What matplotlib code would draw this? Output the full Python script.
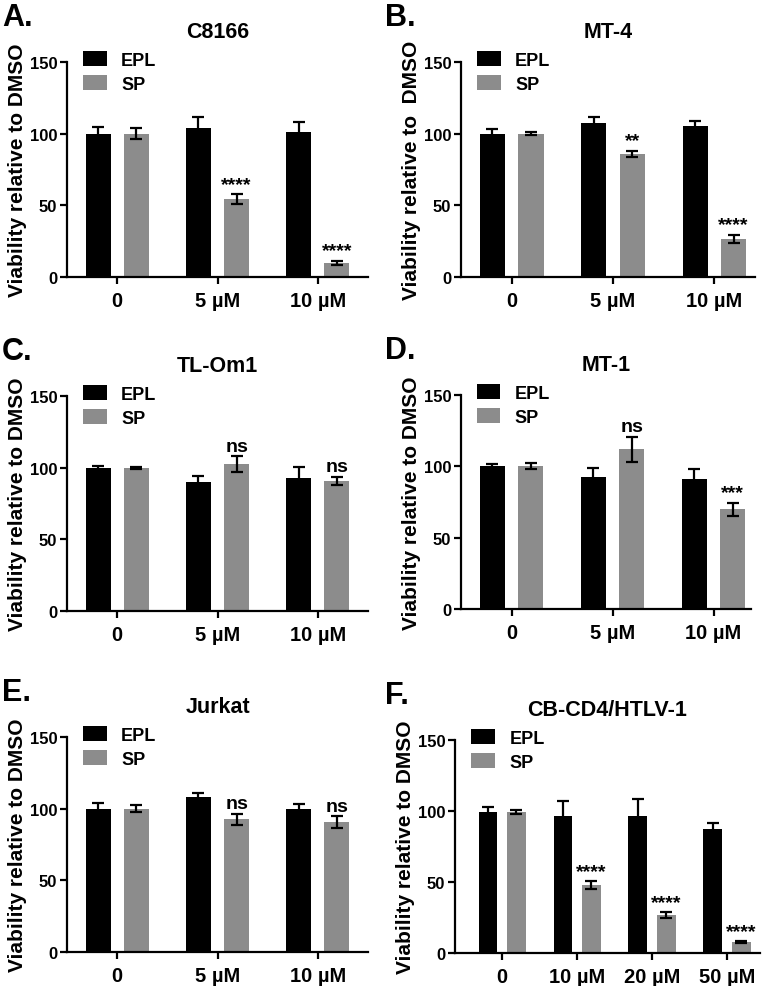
import numpy as np
import matplotlib
matplotlib.use('Agg')
import matplotlib.pyplot as plt

plt.rcParams['font.family'] = ['Liberation Sans', 'DejaVu Sans']
plt.rcParams['font.weight'] = 'bold'

# ---- data ----
doses_3 = ['0', '5 µM', '10 µM']
doses_4 = ['0', '10 µM', '20 µM', '50 µM']

c8166_epl = [100, 103.7, 101.2]
c8166_epl_err = [4.6, 7.7, 7.2]
c8166_sp = [100, 54.4, 9.8]
c8166_sp_err = [4.0, 3.3, 1.6]
c8166_sig = ['', '****', '****']

mt4_epl = [100, 107.7, 105.3]
mt4_epl_err = [3.5, 3.7, 3.5]
mt4_sp = [100, 85.8, 26.7]
mt4_sp_err = [1.2, 2.3, 2.8]
mt4_sig = ['', '**', '****']

tlom1_epl = [99.8, 90.0, 92.8]
tlom1_epl_err = [1.4, 4.4, 7.4]
tlom1_sp = [99.8, 102.3, 90.7]
tlom1_sp_err = [0.7, 5.6, 3.0]
tlom1_sig = ['', 'ns', 'ns']

mt1_epl = [100.3, 92.8, 91.4]
mt1_epl_err = [1.2, 5.9, 6.6]
mt1_sp = [100.3, 112.0, 70.0]
mt1_sp_err = [1.9, 8.8, 4.6]
mt1_sig = ['', 'ns', '***']

jurkat_epl = [99.8, 108.0, 99.6]
jurkat_epl_err = [4.2, 2.8, 3.5]
jurkat_sp = [100, 92.6, 90.7]
jurkat_sp_err = [2.6, 4.0, 4.2]
jurkat_sig = ['', 'ns', 'ns']

cbcd4_epl = [99.6, 96.8, 96.8, 87.4]
cbcd4_epl_err = [3.0, 10.1, 11.7, 4.2]
cbcd4_sp = [99.6, 48.0, 26.5, 7.7]
cbcd4_sp_err = [1.4, 2.6, 2.1, 0.7]
cbcd4_sig = ['', '****', '****', '****']

# panel layout in pixels: x0, x1, y_top, y_bottom, xlim right
W, H = 766, 987
panels = [
    ('A.', 'C8166', doses_3, c8166_epl, c8166_epl_err, c8166_sp, c8166_sp_err, c8166_sig,
     (67, 368, 63, 278), 2.5, 'Viability relative to DMSO'),
    ('B.', 'MT-4', doses_3, mt4_epl, mt4_epl_err, mt4_sp, mt4_sp_err, mt4_sig,
     (461, 755, 63, 278), 2.4, 'Viability relative to  DMSO'),
    ('C.', 'TL-Om1', doses_3, tlom1_epl, tlom1_epl_err, tlom1_sp, tlom1_sp_err, tlom1_sig,
     (67, 368, 397, 612), 2.5, 'Viability relative to DMSO'),
    ('D.', 'MT-1', doses_3, mt1_epl, mt1_epl_err, mt1_sp, mt1_sp_err, mt1_sig,
     (461, 751, 396, 610), 2.37, 'Viability relative to DMSO'),
    ('E.', 'Jurkat', doses_3, jurkat_epl, jurkat_epl_err, jurkat_sp, jurkat_sp_err, jurkat_sig,
     (67, 368, 738, 953), 2.5, 'Viability relative to DMSO'),
    ('F.', 'CB-CD4/HTLV-1', doses_4, cbcd4_epl, cbcd4_epl_err, cbcd4_sp, cbcd4_sp_err, cbcd4_sig,
     (455, 760, 741, 954), 3.44, 'Viability relative to DMSO'),
]

gray = '#8c8c8c'
bw = 0.25
off = 0.19

fig = plt.figure(figsize=(W / 100, H / 100), dpi=100)

for letter, title, doses, epl, epl_err, sp, sp_err, sig, box, xr, ylab in panels:
    x0, x1, yt, yb = box
    ax = fig.add_axes([x0 / W, 1 - yb / H, (x1 - x0) / W, (yb - yt) / H])
    x = np.arange(len(doses))
    lw_err = 1.6
    ax.bar(x - off, epl, bw, color='black', label='EPL', zorder=2)
    ax.bar(x + off, sp, bw, color=gray, label='SP', zorder=2)
    ax.errorbar(x - off, epl, yerr=epl_err, fmt='none', ecolor='black',
                elinewidth=lw_err, capsize=4.5, capthick=lw_err, zorder=3)
    ax.errorbar(x + off, sp, yerr=sp_err, fmt='none', ecolor='black',
                elinewidth=lw_err, capsize=4.5, capthick=lw_err, zorder=3)
    for i, s in enumerate(sig):
        if s:
            ax.text(x[i] + off, sp[i] + sp_err[i] + 1.0, s, ha='center', va='bottom',
                    fontsize=14, fontweight='bold')
    ax.set_xlim(-0.5 if len(doses) == 3 else -0.63, xr)
    ax.set_ylim(0, 150)
    ax.set_yticks([0, 50, 100, 150])
    ax.set_xticks(x)
    ax.set_xticklabels(doses, fontsize=14.5, fontweight='bold')
    ax.tick_params(axis='y', labelsize=12, width=1.6, length=5, pad=2)
    ax.tick_params(axis='x', width=1.6, length=5, pad=5)
    for lab in ax.get_yticklabels():
        lab.set_fontweight('bold')
    ax.spines['top'].set_visible(False)
    ax.spines['right'].set_visible(False)
    ax.spines['left'].set_linewidth(1.6)
    ax.spines['bottom'].set_linewidth(1.6)
    ax.set_ylabel(ylab, fontsize=15, fontweight='bold', labelpad=2)
    ax.set_title(title, fontsize=15.5, fontweight='bold', pad=18)
    ax.legend(loc='upper left', bbox_to_anchor=(0.03, 1.085), frameon=False,
              prop={'size': 13, 'weight': 'bold'}, handlelength=1.3, handleheight=0.9,
              labelspacing=0.35, handletextpad=0.8, borderaxespad=0)
    lx = 2 if letter in ('A.', 'C.', 'E.') else 385
    fig.text(lx / W, 1 - (yt - 60) / H, letter, fontsize=22, fontweight='bold',
             ha='left', va='top')

fig.savefig('out.png', dpi=100)
